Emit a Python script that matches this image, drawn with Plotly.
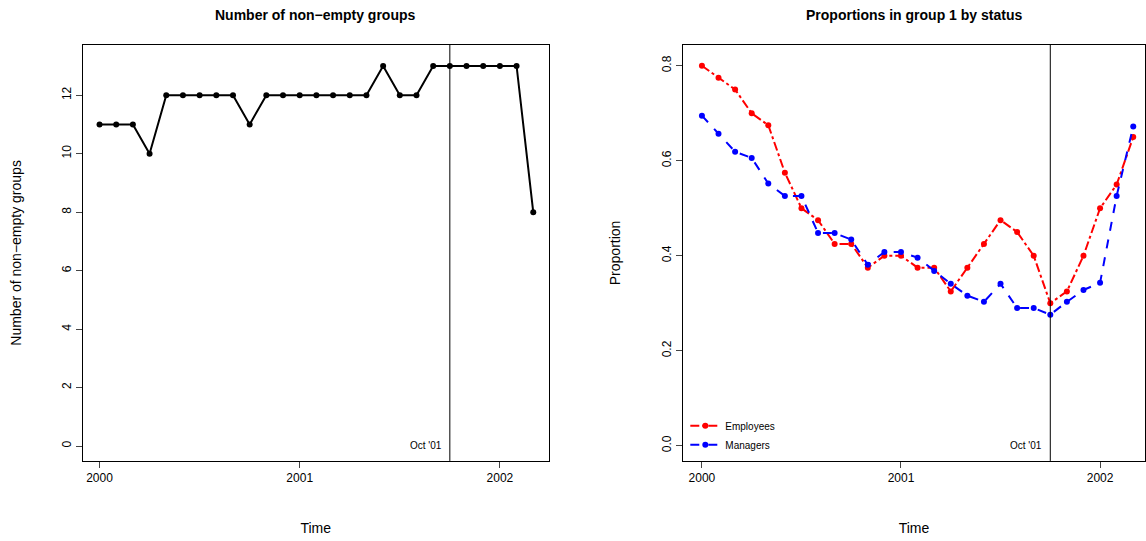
import plotly.graph_objects as go

months = [2000 + i / 12 for i in range(27)]

groups = [11, 11, 11, 10, 12, 12, 12, 12, 12, 11, 12, 12, 12, 12, 12, 12, 12, 13,
          12, 12, 13, 13, 13, 13, 13, 13, 8]

employees = [0.80, 0.775, 0.75, 0.70, 0.675, 0.575, 0.50, 0.475, 0.425, 0.425, 0.375,
             0.40, 0.40, 0.375, 0.375, 0.325, 0.375, 0.425, 0.475, 0.45, 0.40, 0.30,
             0.325, 0.40, 0.50, 0.55, 0.65]
managers = [0.695, 0.657, 0.619, 0.606, 0.552, 0.526, 0.526, 0.448, 0.448, 0.434, 0.381,
            0.408, 0.408, 0.396, 0.368, 0.341, 0.316, 0.303, 0.341, 0.29, 0.29, 0.276,
            0.303, 0.328, 0.343, 0.526, 0.672]

cut = 2001.75
cut_label = "Oct '01"

fig = go.Figure()
fig.add_trace(go.Scatter(x=months, y=groups, mode="lines+markers",
                         line=dict(color="black", width=2), marker=dict(size=6, color="black"),
                         showlegend=False, xaxis="x", yaxis="y"))
fig.add_trace(go.Scatter(x=months, y=employees, mode="lines+markers", name="Employees",
                         line=dict(color="red", width=2, dash="dashdot"),
                         marker=dict(size=6, color="red"), xaxis="x2", yaxis="y2"))
fig.add_trace(go.Scatter(x=months, y=managers, mode="lines+markers", name="Managers",
                         line=dict(color="blue", width=2, dash="dash"),
                         marker=dict(size=6, color="blue"), xaxis="x2", yaxis="y2"))

ax = dict(showline=True, mirror=True, linecolor="black", linewidth=1, ticks="outside",
          ticklen=6, showgrid=False, zeroline=False, tickfont=dict(size=12))
ydom = [0.148, 0.917]
fig.update_layout(
    width=1146, height=541, margin=dict(l=0, r=0, t=0, b=0),
    plot_bgcolor="white", paper_bgcolor="white",
    font=dict(family="Liberation Sans, Arial", color="black", size=12),
    xaxis=dict(ax, domain=[0.072, 0.479], range=[1999.915, 2002.245],
               tickvals=[2000, 2001, 2002], title=dict(text="Time", standoff=38)),
    yaxis=dict(ax, domain=ydom, range=[-0.51, 13.72], tickvals=list(range(0, 13, 2)),
               tickangle=-90, title=dict(text="Number of non\u2212empty groups", standoff=34)),
    xaxis2=dict(ax, domain=[0.596, 0.999], range=[1999.905, 2002.225], anchor="y2",
                tickvals=[2000, 2001, 2002], title=dict(text="Time", standoff=38)),
    yaxis2=dict(ax, domain=ydom, range=[-0.032, 0.844], anchor="x2",
                tickvals=[0, 0.2, 0.4, 0.6, 0.8], tickformat=".1f", tickangle=-90,
                title=dict(text="Proportion", standoff=36)),
    legend=dict(x=0.598, y=0.24, xanchor="left", yanchor="top",
                bgcolor="rgba(0,0,0,0)", font=dict(size=10), tracegroupgap=0,
                itemwidth=30),
    shapes=[
        dict(type="line", xref="x", yref="y domain", x0=cut, x1=cut, y0=0, y1=1,
             line=dict(color="black", width=1)),
        dict(type="line", xref="x2", yref="y2 domain", x0=cut, x1=cut, y0=0, y1=1,
             line=dict(color="black", width=1)),
    ],
    annotations=[
        dict(text="<b>Number of non\u2212empty groups</b>", xref="paper", yref="paper",
             x=0.2755, y=0.99, xanchor="center", yanchor="top", showarrow=False,
             font=dict(size=14)),
        dict(text="<b>Proportions in group 1 by status</b>", xref="paper", yref="paper",
             x=0.7975, y=0.99, xanchor="center", yanchor="top", showarrow=False,
             font=dict(size=14)),
        dict(text=cut_label, xref="x", yref="y domain", x=cut - 0.03, y=0.02,
             xanchor="right", yanchor="bottom", showarrow=False, font=dict(size=10)),
        dict(text=cut_label, xref="x2", yref="y2 domain", x=cut - 0.03, y=0.02,
             xanchor="right", yanchor="bottom", showarrow=False, font=dict(size=10)),
    ],
)

fig.write_html("out.html", config={"displayModeBar": False},
               post_script="document.body.style.margin='0';")
